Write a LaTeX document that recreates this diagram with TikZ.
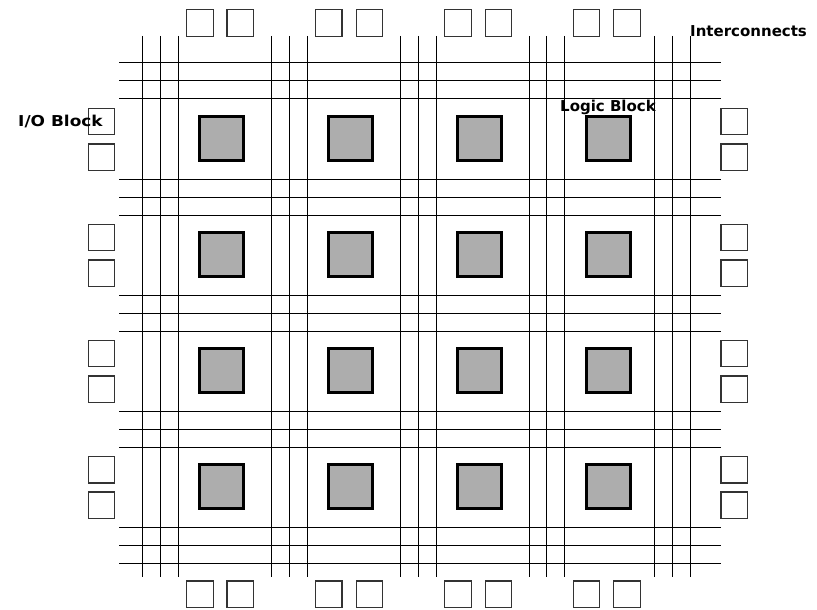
\documentclass[tikz,border=0pt]{standalone}
\usepackage{fontspec}
\setmainfont{DejaVu Sans}
\tikzset{
  wire/.style={line width=1pt},
  ioblock/.style={draw=black!80,line width=1.4pt,minimum size=26.5pt,inner sep=0pt,outer sep=0pt},
  logicblock/.style={draw=black,fill=black!32,line width=3pt,minimum size=44pt,inner sep=0pt,outer sep=0pt},
  blocklabel/.style={font=\bfseries\fontsize{15}{18}\selectfont,inner sep=0pt}
}
\begin{document}
\begin{tikzpicture}[x=1pt,y=-1pt]
\useasboundingbox (0,0) rectangle (817,610);

% Vertical interconnects, three to a channel.
\foreach \xw [count=\v] in {142,160,178,271,289,307,400,418,436,529,546,564,654,672,690}{
  \coordinate (vtop\v) at (\xw,36);
  \coordinate (vbot\v) at (\xw,577);
  \draw[wire] (vtop\v) -- (vbot\v);
}

% Horizontal interconnects.
\foreach \yw [count=\h] in {63,81,98.7,179.5,197.5,215,295,313,331,411,429,447,527.5,545.5,563.5}{
  \coordinate (hleft\h) at (119,\yw);
  \coordinate (hright\h) at (721,\yw);
  \draw[wire] (hleft\h) -- (hright\h);
}

% Logic blocks.
\foreach \xc [count=\c] in {221,350,479,608}{
  \foreach \yc [count=\r] in {138.5,254.5,370.5,486.5}{
    \node[logicblock] (logic\r\c) at (\xc,\yc) {};
  }
}

% Top and bottom I/O blocks.
\foreach \xc [count=\c] in {200,240.2,328.7,369.5,458,498.5,586.5,627}{
  \node[ioblock] (iotop\c) at (\xc,23) {};
  \node[ioblock] (iobot\c) at (\xc,594.3) {};
}

% Left and right I/O blocks.
\foreach \yc [count=\r] in {121.5,157.3,237.5,273.3,353.5,389.3,469.8,505.2}{
  \node[ioblock] (ioleft\r) at (101.5,\yc) {};
  \node[ioblock] (ioright\r) at (734.2,\yc) {};
}

\node[blocklabel,anchor=west,xscale=1.13] (iolabel) at (18,121) {I/O Block};
\node[blocklabel,anchor=west] (logiclabel) at (560,107) {Logic Block};
\node[blocklabel,anchor=west] (wirelabel) at (690,31) {Interconnects};

\end{tikzpicture}
\end{document}
